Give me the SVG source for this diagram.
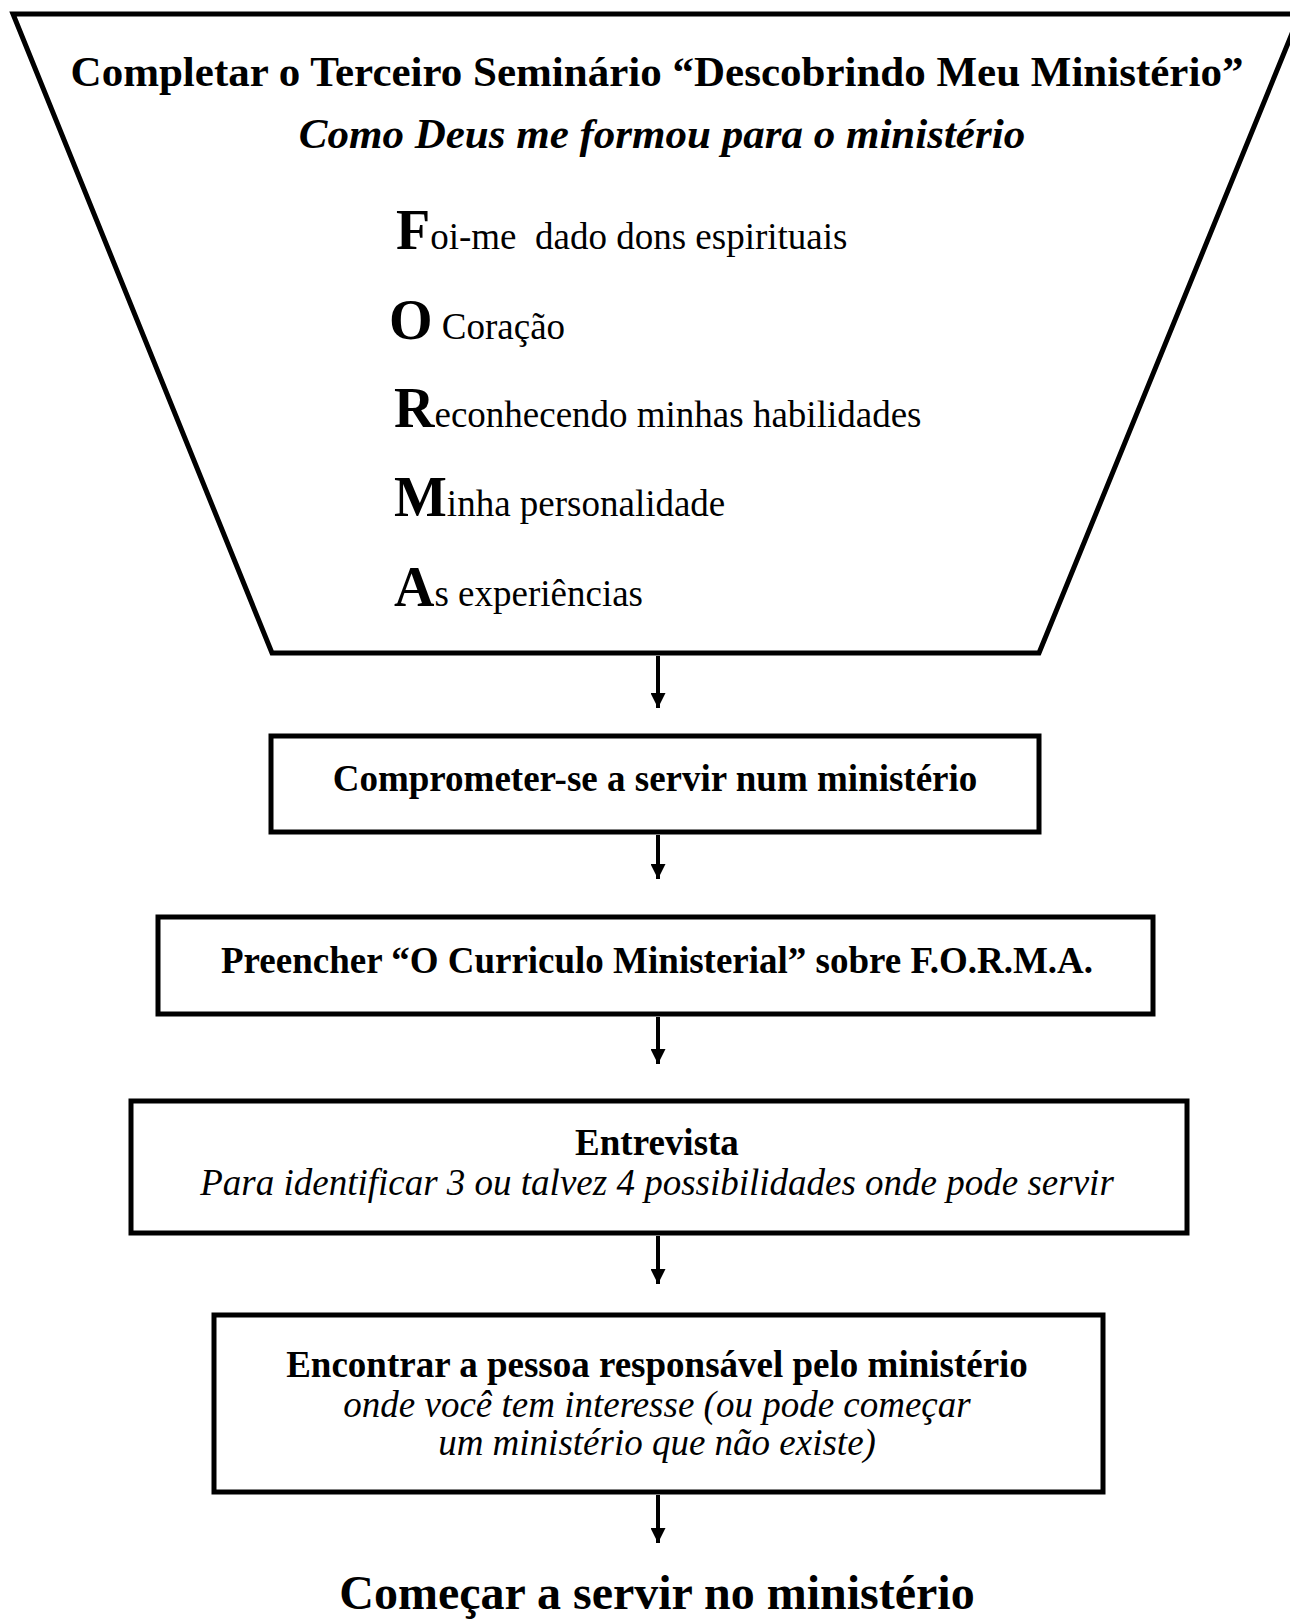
<svg xmlns="http://www.w3.org/2000/svg" width="1290" height="1620" viewBox="0 0 1290 1620">
<style>
text{font-family:"Liberation Serif","Times New Roman",serif;fill:#000}
.b{font-weight:bold}
.i{font-style:italic}
.shape{fill:#fff;stroke:#000;stroke-width:5}
.conn{stroke:#000;stroke-width:4;fill:none}
.big{font-weight:bold;font-size:56px}
.reg{font-size:37px}
</style>
<defs>
<marker id="ah" viewBox="0 0 15 15" refX="15" refY="7.5" markerWidth="15" markerHeight="15" markerUnits="userSpaceOnUse" orient="auto">
<path d="M0,0 L15,7.5 L0,15 z" fill="#000"/>
</marker>
</defs>
<rect width="1290" height="1620" fill="#fff"/>
<g id="funnel">
<polygon class="shape" points="13,14 1300,14 1039,653 272,653"/>
<text class="b" x="657" y="86" font-size="43" text-anchor="middle">Completar o Terceiro Seminário “Descobrindo Meu Ministério”</text>
<text class="b i" x="662" y="148" font-size="43" text-anchor="middle">Como Deus me formou para o ministério</text>
<text x="396" y="249" xml:space="preserve"><tspan class="big">F</tspan><tspan class="reg">oi-me  dado dons espirituais</tspan></text>
<text x="389" y="339" xml:space="preserve"><tspan class="big">O</tspan><tspan class="reg"> Coração</tspan></text>
<text x="394" y="427"><tspan class="big">R</tspan><tspan class="reg">econhecendo minhas habilidades</tspan></text>
<text x="394" y="516"><tspan class="big">M</tspan><tspan class="reg">inha personalidade</tspan></text>
<text x="394" y="606"><tspan class="big">A</tspan><tspan class="reg">s experiências</tspan></text>
</g>
<g id="n1">
<rect class="shape" x="271" y="736" width="768" height="96"/>
<text class="b" x="655" y="791" font-size="37" text-anchor="middle">Comprometer-se a servir num ministério</text>
</g>
<g id="n2">
<rect class="shape" x="158" y="917" width="995" height="97"/>
<text class="b" x="657" y="973" font-size="37" text-anchor="middle">Preencher “O Curriculo Ministerial” sobre F.O.R.M.A.</text>
</g>
<g id="n3">
<rect class="shape" x="131" y="1101" width="1056" height="132"/>
<text class="b" x="657" y="1155" font-size="37" text-anchor="middle">Entrevista</text>
<text class="i" x="657" y="1195" font-size="37" text-anchor="middle">Para identificar 3 ou talvez 4 possibilidades onde pode servir</text>
</g>
<g id="n4">
<rect class="shape" x="214" y="1315" width="889" height="177"/>
<text class="b" x="657" y="1377" font-size="37" text-anchor="middle">Encontrar a pessoa responsável pelo ministério</text>
<text class="i" x="657" y="1417" font-size="37" text-anchor="middle">onde você tem interesse (ou pode começar</text>
<text class="i" x="657" y="1455" font-size="37" text-anchor="middle">um ministério que não existe)</text>
</g>
<g id="n5">
<text class="b" x="657" y="1609" font-size="48" text-anchor="middle">Começar a servir no ministério</text>
</g>
<g id="connectors">
<line class="conn" x1="658" y1="656" x2="658" y2="708" marker-end="url(#ah)"/>
<line class="conn" x1="658" y1="835" x2="658" y2="879" marker-end="url(#ah)"/>
<line class="conn" x1="658" y1="1017" x2="658" y2="1064" marker-end="url(#ah)"/>
<line class="conn" x1="658" y1="1236" x2="658" y2="1284" marker-end="url(#ah)"/>
<line class="conn" x1="658" y1="1495" x2="658" y2="1543" marker-end="url(#ah)"/>
</g>
</svg>
